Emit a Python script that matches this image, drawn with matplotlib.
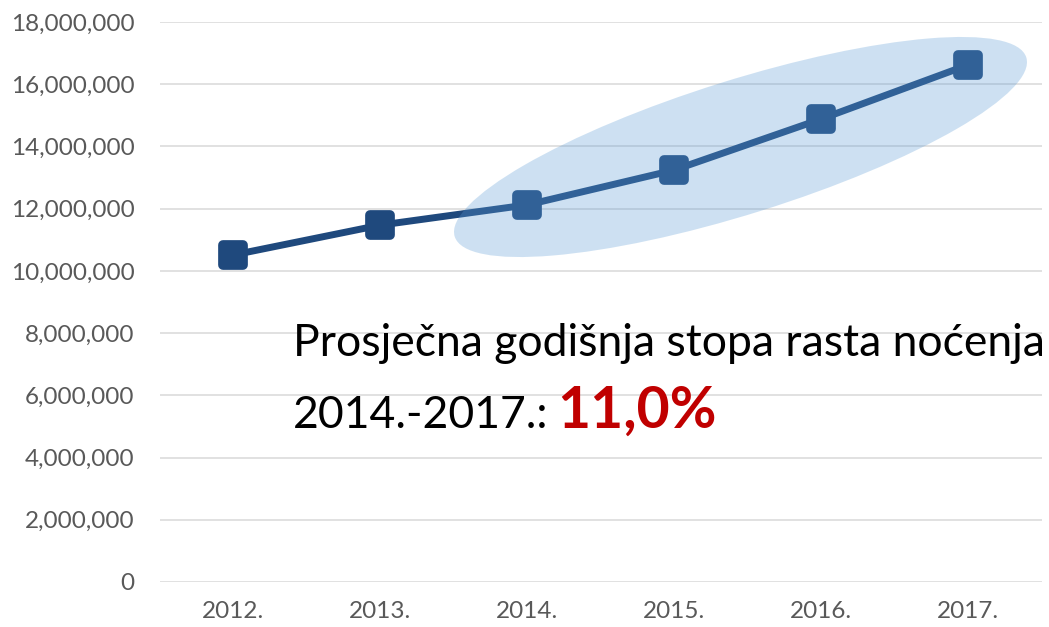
import matplotlib.pyplot as plt
from matplotlib.markers import MarkerStyle
from matplotlib.patches import Ellipse
from matplotlib.ticker import FuncFormatter

# Data
years = ['2012.', '2013.', '2014.', '2015.', '2016.', '2017.']
nocenja = [10510000, 11470000, 12120000, 13240000, 14880000, 16620000]
y_ticks = [0, 2000000, 4000000, 6000000, 8000000, 10000000, 12000000, 14000000, 16000000, 18000000]

line_color = '#1F497D'
font = 'Lato'

fig = plt.figure(figsize=(10.49, 6.27), dpi=100)
ax = fig.add_axes([159.5 / 1049, 45 / 627, 882 / 1049, 560 / 627])

x = list(range(len(years)))
ax.plot(x, nocenja, color=line_color, linewidth=5, zorder=3,
        marker=MarkerStyle('s', joinstyle='round'), markersize=15,
        markeredgewidth=7, markerfacecolor=line_color, markeredgecolor=line_color)

ax.set_xlim(-0.5, len(years) - 0.5)
ax.set_ylim(0, 18000000)
ax.set_xticks(x)
ax.set_xticklabels(years)
ax.set_yticks(y_ticks)
ax.yaxis.set_major_formatter(FuncFormatter(lambda v, p: f'{int(v):,}'))
ax.grid(axis='y', color='#D9D9D9', linewidth=1.1, zorder=0)
ax.set_axisbelow(True)
for s in ax.spines.values():
    s.set_visible(False)
ax.tick_params(axis='both', length=0, labelcolor='#595959', labelsize=17.5)
ax.tick_params(axis='y', pad=18)
ax.tick_params(axis='x', pad=14)
for lbl in ax.get_xticklabels() + ax.get_yticklabels():
    lbl.set_fontfamily(font)

# highlight ellipse (drawn in figure inches)
ell = Ellipse((7.405, 4.80), 5.99, 1.34, angle=17.4, transform=fig.dpi_scale_trans,
              facecolor='#5B9BD5', alpha=0.3, edgecolor='none', zorder=5)
ax.add_artist(ell)

# annotation text
base1 = 1 - 356 / 627
base2 = 1 - 428 / 627
fig.text(293 / 1049, base1, 'Prosječna godišnja stopa rasta noćenja', fontsize=32,
         family=font, color='black', va='baseline', ha='left')
t2 = fig.text(293 / 1049, base2, '2014.-2017.:', fontsize=32,
              family=font, color='black', va='baseline', ha='left')
ax.annotate('11,0%', xy=(1, base2), xycoords=(t2, 'figure fraction'),
            xytext=(6, 0), textcoords='offset points', fontsize=41, fontweight='bold',
            family=font, color='#C00000', va='baseline', ha='left', annotation_clip=False)

fig.savefig('out.png', dpi=100)
